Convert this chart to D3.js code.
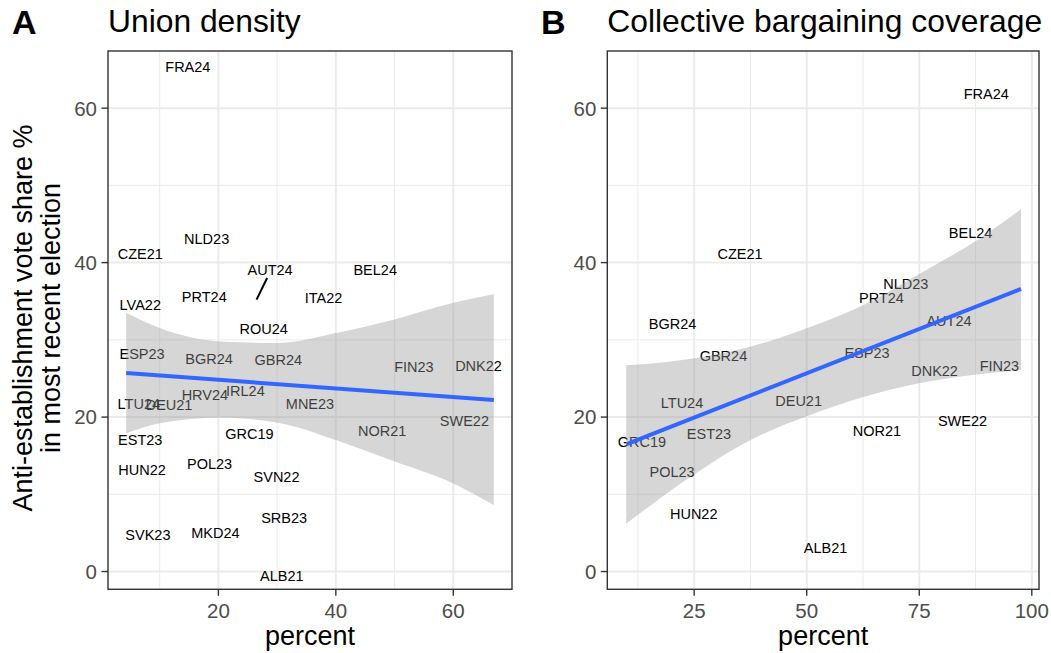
<!DOCTYPE html>
<html>
<head>
<meta charset="utf-8">
<script src="https://cdn.jsdelivr.net/npm/d3@7"></script>
<style>
  body { margin: 0; background: #ffffff; }
  text { font-family: "Liberation Sans", Arial, sans-serif; }
</style>
</head>
<body>
<svg id="chart" width="1051" height="653"></svg>
<script>
// ---- panel A : union density ----
const codesA = ["FRA24","NLD23","CZE21","AUT24","BEL24","PRT24","ITA22","LVA22","ROU24","ESP23",
  "BGR24","GBR24","FIN23","DNK22","HRV24","IRL24","LTU24","DEU21","MNE23","SWE22",
  "NOR21","EST23","GRC19","HUN22","POL23","SVN22","SRB23","SVK23","MKD24","ALB21"];
const densityA = [14.8,18.0,6.7,28.8,46.7,17.6,37.9,6.7,27.7,7.0,
  18.4,30.2,53.3,64.3,17.7,24.6,6.45,11.6,35.6,61.9,
  47.9,6.7,25.3,7.0,18.5,29.9,31.2,8.0,19.5,30.8];
const voteA = [65.4,43.1,41.2,39.1,39.1,35.6,35.4,34.6,31.4,28.2,
  27.5,27.4,26.5,26.6,22.9,23.4,21.7,21.6,21.7,19.5,
  18.2,17.1,17.9,13.2,14.0,12.3,7.0,4.8,5.0,-0.5];
// repel segment (label -> point) for AUT24
const segA = [[28.3, 38.0], [26.5, 35.2]];
// linear fit and its confidence band
const fitXA = [4.3, 66.9];
const fitYA = [25.7, 22.2];
const bandXA = [4.3, 10.1, 20.3, 29.9, 40.1, 49.8, 60.0, 66.9];
const bandHiA = [33.5, 31.5, 29.8, 29.6, 30.9, 32.6, 34.8, 35.9];
const bandLoA = [17.9, 19.2, 19.9, 19.3, 17.0, 14.3, 11.4, 8.6];
const ticksXA = [20, 40, 60];
const minorXA = [10, 30, 50];

// ---- panel B : collective bargaining coverage ----
const codesB = ["FRA24","BEL24","CZE21","NLD23","PRT24","BGR24","AUT24","GBR24","ESP23","DNK22",
  "FIN23","LTU24","DEU21","SWE22","NOR21","GRC19","EST23","POL23","HUN22","ALB21"];
const coverageB = [89.9,86.4,35.2,72.0,66.6,20.2,81.6,31.5,63.4,78.4,
  92.8,22.3,48.2,84.6,65.6,13.4,28.3,20.1,24.9,54.2];
const voteB = [61.9,43.9,41.2,37.2,35.4,32.1,32.5,27.9,28.3,26.0,
  26.6,21.8,22.1,19.5,18.2,16.8,17.9,12.9,7.5,3.1];
const fitXB = [10.0, 97.6];
const fitYB = [16.5, 36.6];
const bandXB = [9.9, 24.8, 37.4, 50.0, 62.6, 75.2, 87.8, 97.6];
const bandHiB = [26.7, 27.6, 29.1, 31.5, 34.5, 38.6, 42.9, 46.9];
const bandLoB = [6.2, 12.5, 17.0, 20.1, 22.6, 24.4, 25.5, 26.1];
const ticksXB = [25, 50, 75, 100];
const minorXB = [12.5, 37.5, 62.5, 87.5];

// shared y axis
const ticksY = [0, 20, 40, 60];
const minorY = [10, 30, 50];

const svg = d3.select("#chart");

// function to draw one panel
function drawpanel(p) {
  const x = d3.scaleLinear().domain(p.xdomain).range([p.left, p.right]);
  const y = d3.scaleLinear().domain([-2.3, 67.4]).range([589.3, 51]);
  const g = svg.append("g");

  // minor grid
  g.selectAll(".mx").data(p.minorx).join("line")
    .attr("x1", d => x(d)).attr("x2", d => x(d))
    .attr("y1", y.range()[0]).attr("y2", y.range()[1])
    .attr("stroke", "#ebebeb").attr("stroke-width", 1);
  g.selectAll(".my").data(minorY).join("line")
    .attr("x1", p.left).attr("x2", p.right)
    .attr("y1", d => y(d)).attr("y2", d => y(d))
    .attr("stroke", "#ebebeb").attr("stroke-width", 1);
  // major grid
  g.selectAll(".Mx").data(p.ticksx).join("line")
    .attr("x1", d => x(d)).attr("x2", d => x(d))
    .attr("y1", y.range()[0]).attr("y2", y.range()[1])
    .attr("stroke", "#ebebeb").attr("stroke-width", 2);
  g.selectAll(".My").data(ticksY).join("line")
    .attr("x1", p.left).attr("x2", p.right)
    .attr("y1", d => y(d)).attr("y2", d => y(d))
    .attr("stroke", "#ebebeb").attr("stroke-width", 2);

  // country labels
  g.selectAll(".lab").data(p.codes).join("text")
    .attr("x", (d, i) => x(p.xs[i]))
    .attr("y", (d, i) => y(p.ys[i]))
    .attr("dy", "0.36em")
    .attr("text-anchor", "middle")
    .attr("font-size", "14.5px")
    .attr("fill", "#000")
    .text(d => d);

  // repel segment
  if (p.seg) {
    g.append("line")
      .attr("x1", x(p.seg[0][0])).attr("y1", y(p.seg[0][1]))
      .attr("x2", x(p.seg[1][0])).attr("y2", y(p.seg[1][1]))
      .attr("stroke", "#000").attr("stroke-width", 2);
  }

  // confidence ribbon (drawn over the labels like geom_smooth)
  const area = d3.area()
    .x((d, i) => x(p.bandx[i]))
    .y0((d, i) => y(p.bandlo[i]))
    .y1((d, i) => y(p.bandhi[i]))
    .curve(d3.curveMonotoneX);
  g.append("path")
    .attr("d", area(p.bandx))
    .attr("fill", "#999999")
    .attr("fill-opacity", 0.4);

  // fit line
  const line = d3.line().x((d, i) => x(p.fitx[i])).y((d, i) => y(p.fity[i]));
  g.append("path")
    .attr("d", line(p.fitx))
    .attr("fill", "none")
    .attr("stroke", "#3366FF")
    .attr("stroke-width", 4);

  // panel border
  g.append("rect")
    .attr("x", p.left).attr("y", 51)
    .attr("width", p.right - p.left).attr("height", 589.3 - 51)
    .attr("fill", "none").attr("stroke", "#333333").attr("stroke-width", 1.4);

  // y ticks + labels
  g.selectAll(".yt").data(ticksY).join("line")
    .attr("x1", p.left - 6.5).attr("x2", p.left)
    .attr("y1", d => y(d)).attr("y2", d => y(d))
    .attr("stroke", "#333333").attr("stroke-width", 1.4);
  g.selectAll(".yl").data(ticksY).join("text")
    .attr("x", p.left - 11).attr("y", d => y(d))
    .attr("dy", "0.36em")
    .attr("text-anchor", "end")
    .attr("font-size", "20.5px").attr("fill", "#4d4d4d")
    .text(d => d);

  // x ticks + labels
  g.selectAll(".xt").data(p.ticksx).join("line")
    .attr("x1", d => x(d)).attr("x2", d => x(d))
    .attr("y1", 589.3).attr("y2", 595.8)
    .attr("stroke", "#333333").attr("stroke-width", 1.4);
  g.selectAll(".xl").data(p.ticksx).join("text")
    .attr("x", d => x(d)).attr("y", 617.5)
    .attr("text-anchor", "middle")
    .attr("font-size", "20.5px").attr("fill", "#4d4d4d")
    .text(d => d);

  // x axis title
  g.append("text")
    .attr("x", (p.left + p.right) / 2).attr("y", 645)
    .attr("text-anchor", "middle")
    .attr("font-size", "27px").attr("fill", "#000")
    .text("percent");

  // tag and title
  g.append("text")
    .attr("x", p.tagx).attr("y", 34)
    .attr("font-size", "34px").attr("font-weight", "bold").attr("fill", "#000")
    .text(p.tag);
  g.append("text")
    .attr("x", p.left).attr("y", 32)
    .attr("font-size", "31.8px").attr("fill", "#000")
    .text(p.title);
}

drawpanel({
  left: 108, right: 512, xdomain: [1.2, 70],
  codes: codesA, xs: densityA, ys: voteA, seg: segA,
  fitx: fitXA, fity: fitYA, bandx: bandXA, bandhi: bandHiA, bandlo: bandLoA,
  ticksx: ticksXA, minorx: minorXA, tag: "A", tagx: 12, title: "Union density"
});
drawpanel({
  left: 607.3, right: 1039, xdomain: [5.7, 101.6],
  codes: codesB, xs: coverageB, ys: voteB, seg: null,
  fitx: fitXB, fity: fitYB, bandx: bandXB, bandhi: bandHiB, bandlo: bandLoB,
  ticksx: ticksXB, minorx: minorXB, tag: "B", tagx: 541, title: "Collective bargaining coverage"
});

// shared y axis title (two lines)
const ytitle = ["Anti-establishment vote share %", "in most recent election"];
svg.selectAll(".ytitle").data(ytitle).join("text")
  .attr("transform", (d, i) => "translate(" + (32 + i * 28.3) + ",318) rotate(-90)")
  .attr("text-anchor", "middle")
  .attr("font-size", "27px").attr("fill", "#000")
  .text(d => d);
</script>
</body>
</html>
